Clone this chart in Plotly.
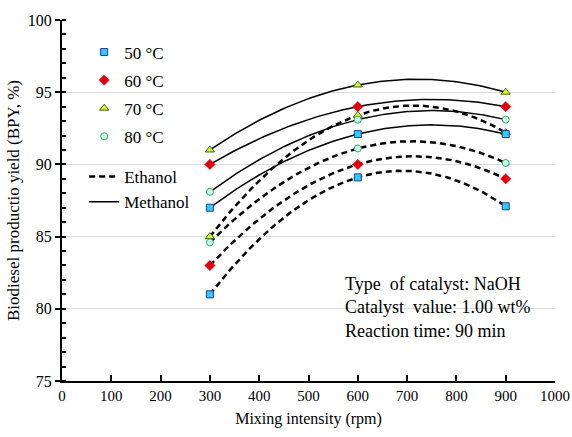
import numpy as np
import plotly.graph_objects as go

# ---- data ----
rpm = [300, 600, 900]
temps = ["50 °C", "60 °C", "70 °C", "80 °C"]
methanol_50 = [87.0, 92.1, 92.1]
methanol_60 = [90.0, 94.0, 94.0]
methanol_70 = [91.0, 95.5, 95.0]
methanol_80 = [88.1, 93.1, 93.1]
ethanol_50 = [81.0, 89.1, 87.1]
ethanol_60 = [83.0, 90.0, 89.0]
ethanol_70 = [85.0, 93.4, 92.2]
ethanol_80 = [84.6, 91.1, 90.1]
x_ticks = list(range(0, 1001, 100))
y_ticks = list(range(75, 101, 5))

methanol = {"50 °C": methanol_50, "60 °C": methanol_60, "70 °C": methanol_70, "80 °C": methanol_80}
ethanol = {"50 °C": ethanol_50, "60 °C": ethanol_60, "70 °C": ethanol_70, "80 °C": ethanol_80}

styles = {
    "50 °C": dict(symbol="square", size=7, color="#33CCFF", line=dict(color="#1F3C99", width=1)),
    "60 °C": dict(symbol="diamond", size=8, color="#E3000F", line=dict(color="#E3000F", width=0.5)),
    "70 °C": dict(symbol="triangle-up", size=8, color="#E6F22E", line=dict(color="#2E6B1E", width=1)),
    "80 °C": dict(symbol="circle", size=7, color="#CCFFEE", line=dict(color="#2EAE5A", width=1)),
}

FONT = "Liberation Serif, Times New Roman, serif"
fig = go.Figure()

# trendlines (2nd-order polynomial fit of each series, like the original)
xs = np.linspace(rpm[0], rpm[-1], 121)
for solvent, data, dash, width in [("Ethanol", ethanol, "6px,4px", 2.5), ("Methanol", methanol, "solid", 1.5)]:
    first = True
    for t in temps:
        c = np.polyfit(rpm, data[t], 2)
        fig.add_trace(go.Scatter(
            x=xs, y=np.polyval(c, xs), mode="lines",
            line=dict(color="black", width=width, dash=dash),
            name=solvent, showlegend=first, legend="legend2", hoverinfo="skip"))
        first = False

# markers (70 first so the 50 square sits on top where they coincide)
order = ["70 °C", "80 °C", "60 °C", "50 °C"]
for t in order:
    for solvent, data in [("Ethanol", ethanol), ("Methanol", methanol)]:
        fig.add_trace(go.Scatter(
            x=rpm, y=data[t], mode="markers", marker=styles[t],
            name=t, legendgroup=t, showlegend=(solvent == "Methanol"),
            legendrank=temps.index(t) + 1, legend="legend"))

fig.add_annotation(
    xref="paper", yref="paper", x=0.57, y=0.303, xanchor="left", yanchor="top",
    text="Type  of catalyst: NaOH<br>Catalyst  value: 1.00 wt%<br>Reaction time: 90 min",
    showarrow=False, align="left", font=dict(family=FONT, size=18, color="black"))

fig.update_layout(
    width=572, height=437,
    margin=dict(l=62, r=17, t=18, b=56),
    paper_bgcolor="white", plot_bgcolor="white",
    font=dict(family=FONT, size=15, color="black"),
    legend=dict(x=0.045, y=0.96, xanchor="left", yanchor="top", bgcolor="rgba(0,0,0,0)",
                tracegroupgap=3, traceorder="grouped", font=dict(size=17)),
    legend2=dict(x=0.045, y=0.615, xanchor="left", yanchor="top", bgcolor="rgba(0,0,0,0)",
                 font=dict(size=17), itemwidth=30),
)
fig.update_xaxes(
    range=[0, 1000], tickvals=x_ticks, ticktext=[str(v) for v in x_ticks],
    showgrid=False, zeroline=False, showline=True, linecolor="black", linewidth=2,
    ticks="inside", ticklen=6, tickwidth=1.5, tickcolor="black", ticklabeloverflow="allow",
    automargin=False,
    tickfont=dict(family=FONT, size=15),
    title=dict(text="Mixing intensity (rpm)", font=dict(family=FONT, size=16), standoff=10))
fig.update_yaxes(
    range=[75, 100], tickvals=y_ticks,
    showgrid=True, gridcolor="#D9D9D9", gridwidth=1, zeroline=False,
    showline=True, linecolor="black", linewidth=2,
    ticks="outside", ticklen=5, tickwidth=1.5, tickcolor="black",
    minor=dict(dtick=1, ticks="inside", ticklen=4, tickcolor="black", showgrid=False),
    tickfont=dict(family=FONT, size=16),
    title=dict(text="Biodiesel productio yield (BPY, %)", font=dict(family=FONT, size=17), standoff=4))

fig.write_html("out.html")
